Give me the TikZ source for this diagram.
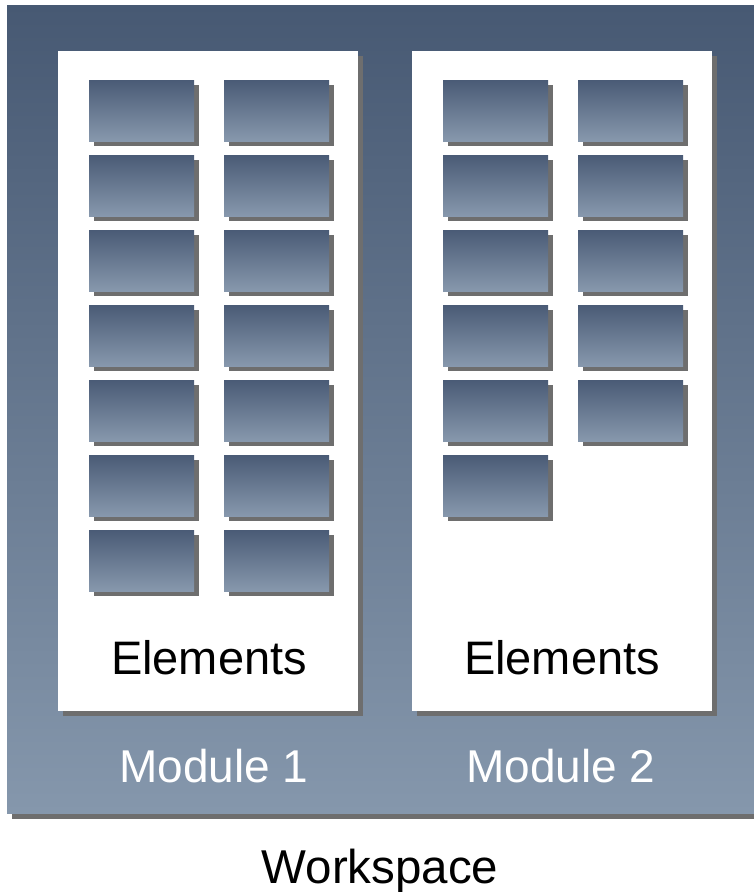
\documentclass[tikz,border=0pt]{standalone}
\usepackage{fontspec}
\setmainfont{Liberation Sans}
\usetikzlibrary{shadows}
\definecolor{gtop}{HTML}{475973}
\definecolor{gbot}{HTML}{8597AC}
\definecolor{etop}{HTML}{4A5B76}
\definecolor{ebot}{HTML}{8798AD}
\definecolor{shd}{HTML}{6E6E6E}
\tikzset{
  shd/.style={drop shadow={shadow xshift=5pt, shadow yshift=-5pt, fill=shd, opacity=1}},
  workspace/.style={rectangle, inner sep=0pt, anchor=north west, top color=gtop, bottom color=gbot,
    minimum width=747pt, minimum height=808pt, drop shadow={shadow xshift=5pt, shadow yshift=-6pt, fill=shd, opacity=1}},
  module/.style={rectangle, inner sep=0pt, anchor=north west, fill=white,
    minimum width=300pt, minimum height=660pt, shd},
  elem/.style={rectangle, inner sep=0pt, anchor=north west, top color=etop, bottom color=ebot,
    minimum width=105pt, minimum height=61pt, shd},
  lbl/.style={anchor=base, inner sep=0pt, font=\fontsize{46}{46}\selectfont},
}
\begin{document}
\begin{tikzpicture}[x=1pt,y=-1pt]
\useasboundingbox (0,0) rectangle (754,892);
\node[workspace] (ws) at (7,5) {};
\node[module] (m1) at (58,51) {};
\node[module] (m2) at (412,51) {};
% module 1 elements
\foreach \r [count=\i] in {80,155,230,305,380,455,530} {
  \node[elem] (a\i) at (89,\r) {};
  \node[elem] (b\i) at (224,\r) {};
}
% module 2 elements
\foreach \r [count=\i] in {80,155,230,305,380,455} {
  \node[elem] (c\i) at (443,\r) {};
}
\foreach \r [count=\i] in {80,155,230,305,380} {
  \node[elem] (d\i) at (578,\r) {};
}
\node[lbl, font=\fontsize{47}{47}\selectfont] (e1) at (209,674) {Elements};
\node[lbl, font=\fontsize{47}{47}\selectfont] (e2) at (562,674) {Elements};
\node[lbl, text=white] (t1) at (214,782) {Module 1};
\node[lbl, text=white] (t2) at (561,782) {Module 2};
\node[lbl, font=\fontsize{47.5}{47.5}\selectfont] (t3) at (380,883) {Workspace};
\end{tikzpicture}
\end{document}
